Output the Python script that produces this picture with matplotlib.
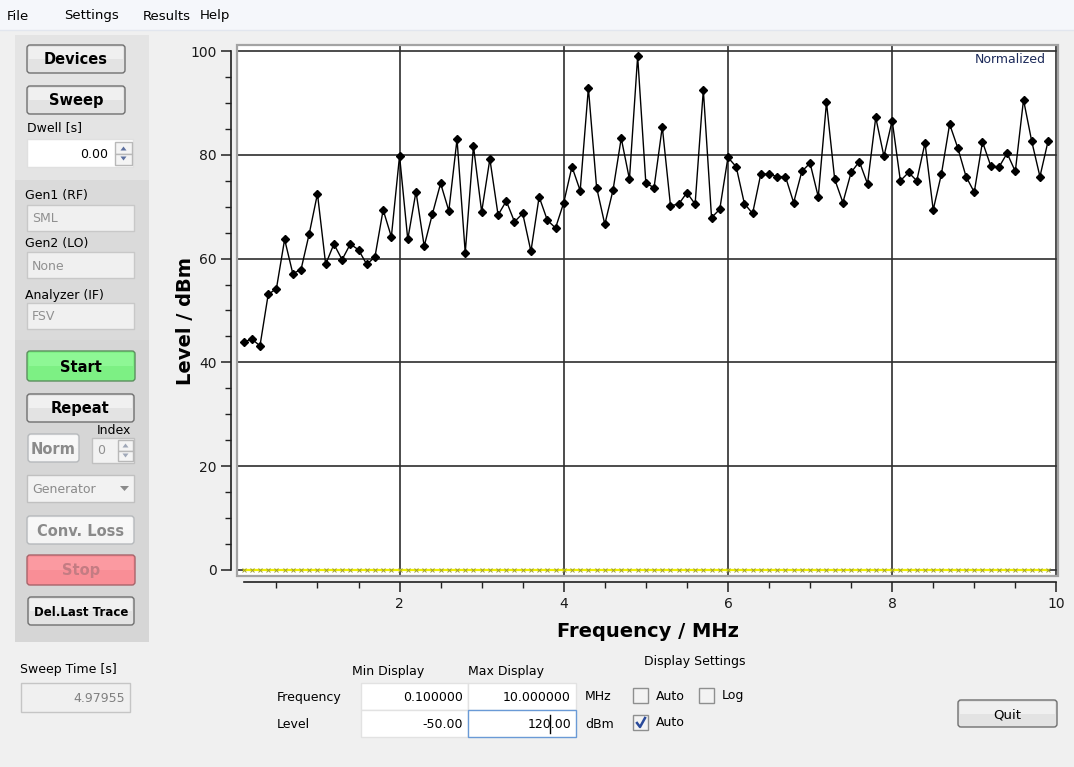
# Sweep measurement window: level vs frequency trace with the control panel around it
import numpy as np
import matplotlib.pyplot as plt
from matplotlib.patches import Rectangle, FancyBboxPatch, Polygon
from matplotlib.ticker import MultipleLocator

# measured trace (0.1 MHz steps, 0.1 .. 9.9 MHz)
freq_mhz = np.arange(1, 100) / 10
level_dbm = [43.9, 44.5, 43.2, 53.1, 54.2, 63.7, 57.1, 57.9, 64.8, 72.5,
             58.9, 62.8, 59.8, 62.8, 61.7, 58.9, 60.3, 69.4, 64.2, 79.8,
             63.7, 72.9, 62.4, 68.6, 74.5, 69.2, 83.0, 61.1, 81.7, 69.0,
             79.2, 68.4, 71.1, 67.1, 68.7, 61.4, 71.9, 67.4, 65.9, 70.8,
             77.7, 73.1, 92.9, 73.7, 66.6, 73.2, 83.2, 75.3, 99.0, 74.5,
             73.7, 85.4, 70.2, 70.5, 72.7, 70.5, 92.5, 67.9, 69.5, 79.5,
             77.7, 70.6, 68.7, 76.3, 76.3, 75.8, 75.8, 70.8, 76.8, 78.4,
             71.9, 90.1, 75.3, 70.8, 76.6, 78.7, 74.4, 87.2, 79.7, 86.6,
             75.0, 76.6, 75.0, 82.3, 69.4, 76.3, 85.9, 81.3, 75.8, 72.8,
             82.5, 77.9, 77.6, 80.3, 76.8, 90.6, 82.6, 75.8, 82.7]
# normalized reference trace (flat at 0)
norm_dbm = np.zeros(len(freq_mhz))

x_ticks = [2, 4, 6, 8, 10]
y_ticks = [0, 20, 40, 60, 80, 100]
menu_items = ['File', 'Settings', 'Results', 'Help']

fig = plt.figure(figsize=(10.74, 7.67), dpi=100, facecolor='#f0f0f0')

# background layer in pixel coordinates for the window widgets
bg = fig.add_axes([0, 0, 1, 1])
bg.set_xlim(0, 1074)
bg.set_ylim(767, 0)
bg.axis('off')
bg.set_zorder(0)

GUI = 'DejaVu Sans'


def rect(x0, y0, x1, y1, fc, ec='none', lw=1):
    bg.add_patch(Rectangle((x0, y0), x1 - x0, y1 - y0, fc=fc, ec=ec, lw=lw))


def label(x, y, s, fs=9, color='black', ha='left', weight='normal'):
    bg.text(x, y, s, fontsize=fs, color=color, ha=ha, va='center',
            fontweight=weight, family=GUI)


def button(x0, y0, x1, y1, s, fc='#e3e3e3', hi='#f0f0f0', ec='#707070',
           tc='black', fs=10.5, weight='bold'):
    bg.add_patch(FancyBboxPatch((x0, y0), x1 - x0, y1 - y0,
                                boxstyle='round,pad=0,rounding_size=3',
                                fc=fc, ec=ec, lw=1))
    rect(x0 + 2, y0 + 2, x1 - 2, (y0 + y1) / 2, hi)
    bg.text((x0 + x1) / 2, (y0 + y1) / 2 + 1, s, fontsize=fs, color=tc,
            ha='center', va='center', fontweight=weight, family=GUI)


def field(x0, y0, x1, y1, s, fc='white', ec='#c8c8c8', tc='black', ha='right'):
    rect(x0, y0, x1, y1, fc, ec)
    tx = x1 - 5 if ha == 'right' else x0 + 5
    label(tx, (y0 + y1) / 2 + 1, s, fs=9, color=tc, ha=ha)


def checkbox(x, y, checked=False):
    bg.add_patch(Rectangle((x, y), 15, 15, fc='#f3f3f3', ec='#8e8f8f', lw=1))
    if checked:
        bg.plot([x + 4, x + 7, x + 12], [y + 8, y + 12, y + 3],
                color='#2a4a9a', lw=1.8)


def spin_arrows(x0, y0, x1, y1, color='#5c6f9f'):
    ym = (y0 + y1) / 2
    rect(x0, y0, x1, ym, '#f4f4f4', '#b8b8b8')
    rect(x0, ym, x1, y1, '#f4f4f4', '#b8b8b8')
    cx = (x0 + x1) / 2
    bg.add_patch(Polygon([[cx - 3, ym - 3], [cx + 3, ym - 3], [cx, ym - 7]],
                         fc=color, ec='none'))
    bg.add_patch(Polygon([[cx - 3, ym + 3], [cx + 3, ym + 3], [cx, ym + 7]],
                         fc=color, ec='none'))


# menu bar
rect(0, 0, 1074, 30, '#f5f7fb')
bg.plot([0, 1074], [30, 30], color='#e2e6ee', lw=1)
for mx, m in zip([7, 64, 143, 200], menu_items):
    label(mx, 16, m, fs=9.5)

# left panel
rect(15, 35, 149, 180, '#e4e4e4')
rect(15, 180, 149, 340, '#dadada')
rect(15, 340, 149, 642, '#d6d6d6')

button(27, 45, 125, 73, 'Devices')
button(27, 86, 125, 114, 'Sweep')
label(27, 128, 'Dwell [s]')
field(27, 139, 133, 167, '', ec='#e0e0e0')
label(108, 154, '0.00', ha='right')
spin_arrows(115, 142, 132, 165)

label(25, 196, 'Gen1 (RF)')
field(27, 205, 134, 231, 'SML', fc='#f0f0f0', tc='#909090', ha='left')
label(25, 243, 'Gen2 (LO)')
field(27, 252, 134, 278, 'None', fc='#f0f0f0', tc='#909090', ha='left')
label(25, 295, 'Analyzer (IF)')
field(27, 303, 134, 329, 'FSV', fc='#f0f0f0', tc='#909090', ha='left')

button(27, 351, 135, 381, 'Start', fc='#7df084', hi='#8ef795', ec='#5b8f5e')
button(27, 394, 134, 422, 'Repeat')
label(131, 430, 'Index', ha='right')
button(28, 434, 79, 462, 'Norm', fc='#f4f4f4', hi='#f8f8f8', ec='#b6b9bc',
       tc='#8a8a8a')
field(92, 438, 134, 463, '', fc='#f2f2f2', ec='#c0c0c0')
label(97, 451, '0', color='#909090')
spin_arrows(118, 440, 133, 461, color='#a0a8b8')
field(27, 475, 134, 502, 'Generator', fc='#f2f2f2', ec='#c0c0c0',
      tc='#8a8a8a', ha='left')
bg.add_patch(Polygon([[120, 486], [129, 486], [124.5, 491]], fc='#8a8a8a',
                     ec='none'))
button(27, 516, 134, 544, 'Conv. Loss', fc='#f4f4f4', hi='#f8f8f8',
       ec='#b6b9bc', tc='#8a8a8a')
button(27, 555, 135, 585, 'Stop', fc='#f98e96', hi='#fb9aa1', ec='#a8646a',
       tc='#c47c83')
button(28, 597, 134, 625, 'Del.Last Trace', fs=8.5)

label(20, 670, 'Sweep Time [s]')
field(21, 683, 130, 712, '4.97955', fc='#f0f0f0', ec='#c5c5c5', tc='#808080')

# display settings under the plot
label(388, 671, 'Min Display', ha='center')
label(506, 671, 'Max Display', ha='center')
label(695, 662, 'Display Settings', ha='center')
label(277, 697, 'Frequency')
label(277, 724, 'Level')
field(361, 683, 468, 710, '0.100000', ec='#e2e2e2')
field(468, 683, 576, 710, '10.000000', ec='#e2e2e2')
field(361, 710, 468, 737, '-50.00', ec='#e2e2e2')
field(468, 710, 576, 737, '120.00', ec='#6a9ad6')
bg.plot([550, 550], [715, 733], color='black', lw=1)
label(585, 697, 'MHz')
label(585, 724, 'dBm')
checkbox(633, 688)
label(656, 696, 'Auto')
checkbox(699, 688)
label(722, 696, 'Log')
checkbox(633, 715, checked=True)
label(656, 723, 'Auto')
button(958, 700, 1057, 727, 'Quit', fs=9.5, weight='normal')

# plot canvas
L, R, T, B = 237, 1058, 45, 576
ax = fig.add_axes([L / 1074, 1 - B / 767, (R - L) / 1074, (B - T) / 767])
ax.set_zorder(1)
ax.set_facecolor('white')
ax.set_xlim(0.02, 10.02)
ax.set_ylim(-1.16, 101.16)

ax.grid(True, which='major', color='#2e2e2e', lw=1.2)
ax.set_axisbelow(True)

ax.plot(freq_mhz, norm_dbm, color='#eded00', lw=1.6, marker='x', ms=2.5,
        mec='#a0a030', mew=0.7, zorder=3)
ax.plot(freq_mhz, level_dbm, color='black', lw=1, marker='D', ms=3.8,
        zorder=4)

ax.text(0.985, 0.985, 'Normalized', transform=ax.transAxes, ha='right',
        va='top', fontsize=9, color='#1c2a5a', family=GUI)

for side in ['top', 'right']:
    ax.spines[side].set_visible(False)
ax.spines['left'].set_position(('outward', 4.3))
ax.spines['bottom'].set_position(('outward', 4.3))
ax.spines['left'].set_bounds(0, 100)
ax.spines['bottom'].set_bounds(0.1, 10)
for side in ['left', 'bottom']:
    ax.spines[side].set_color('#202020')
    ax.spines[side].set_linewidth(1.2)

ax.set_xticks(x_ticks)
ax.set_yticks(y_ticks)
ax.xaxis.set_minor_locator(MultipleLocator(0.5))
ax.yaxis.set_minor_locator(MultipleLocator(5))
ax.tick_params(which='major', length=7.5, width=1.1, color='#202020',
               labelsize=10, labelcolor='#1a1a1a', pad=3)
ax.tick_params(which='minor', length=4, width=1, color='#202020')

ax.set_xlabel('Frequency / MHz', fontsize=14, fontweight='bold',
              va='center')
ax.xaxis.set_label_coords(0.5, -0.104)
ax.set_ylabel('Level / dBm', fontsize=14, fontweight='bold', va='center')
ax.yaxis.set_label_coords(-0.063, 0.48)

# canvas frame
ax.add_patch(Rectangle((0, 0), 1, 1, transform=ax.transAxes, fill=False,
                       ec='#a3a3a3', lw=1.6, clip_on=False, zorder=5))

fig.savefig('out.png', dpi=100, facecolor=fig.get_facecolor())
